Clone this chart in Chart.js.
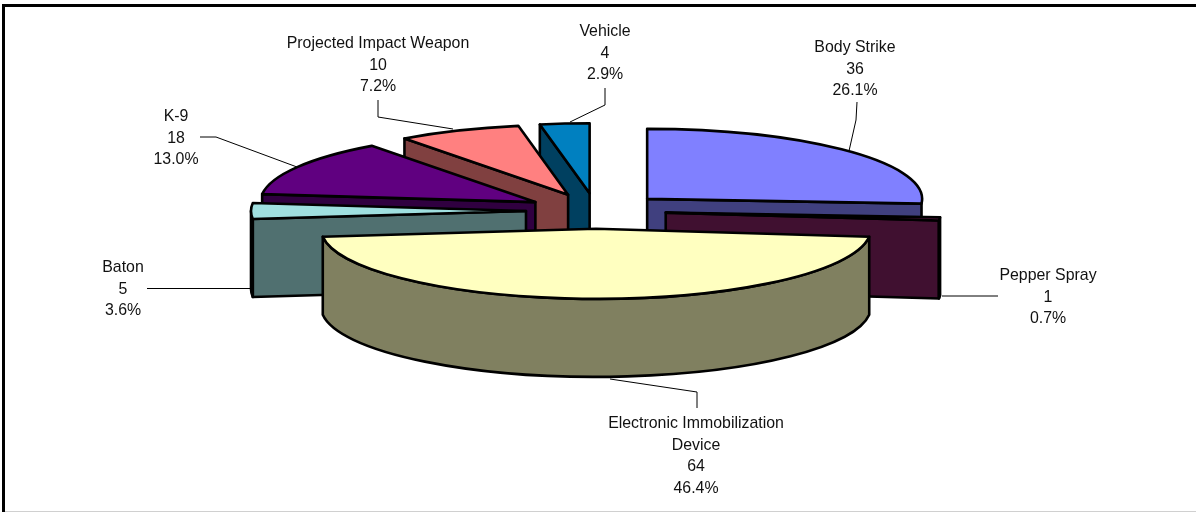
<!DOCTYPE html>
<html>
<head>
<meta charset="utf-8">
<style>html,body{margin:0;padding:0;background:#fff;overflow:hidden}canvas{display:block}</style>
<script src="https://cdn.jsdelivr.net/npm/chart.js@4"></script>
</head>
<body>
<canvas id="c" width="1196" height="512"></canvas>
<script>
const categories = ['Body Strike','Pepper Spray','Electronic Immobilization Device','Baton','K-9','Projected Impact Weapon','Vehicle'];
const values = [36,1,64,5,18,10,4];
const topColors = ['#8080FF','#802060','#FFFFC0','#A0E0E0','#600080','#FF8080','#0080C0'];
const wallColors = ['#40407F','#401030','#808060','#507070','#300040','#804040','#004060'];
const labelLines = [['Body Strike'],['Pepper Spray'],['Electronic Immobilization','Device'],['Baton'],['K-9'],['Projected Impact Weapon'],['Vehicle']];
const labelAnchors = [[855,48],[1048,276],[696,424],[123,268],[176,117],[378,44],[605,32]];
const leaders = [
  [[857,102],[856,120],[849,151]],
  [[942,296],[998,296]],
  [[610,379],[697,392],[697,408]],
  [[147,288.5],[251,288.5]],
  [[200,137],[216,137],[297,167]],
  [[378,100],[378,117],[453,129]],
  [[605,88],[605,105],[570,122]]
];
const tilt = 0.2545, depth = 78, lineH = 21.4, explode = 70;

const pie3d = {
  id:'pie3d',
  beforeDatasetsDraw(chart){
    const ctx = chart.ctx;
    const arcs = chart.getDatasetMeta(0).data;
    const items = arcs.map((arc,i)=>{
      const p = arc.getProps(['x','y','startAngle','endAngle','outerRadius']);
      const mid=(p.startAngle+p.endAngle)/2;
      return {arc,i,s:p.startAngle,e:p.endAngle,rx:p.outerRadius,ry:p.outerRadius*tilt,
        ox:p.x+Math.cos(mid)*explode, oy:p.y+Math.sin(mid)*explode*tilt};
    }).sort((a,b)=>a.oy-b.oy);
    ctx.save();
    ctx.lineWidth = 2.6; ctx.lineJoin='round'; ctx.strokeStyle='#000';
    for(const t of items){
      ctx.fillStyle = wallColors[t.i];
      const pt = a=>[t.ox+t.rx*Math.cos(a), t.oy+t.ry*Math.sin(a)];
      const radial = a=>{
        const q=pt(a);
        ctx.beginPath();
        ctx.moveTo(t.ox,t.oy);ctx.lineTo(q[0],q[1]);ctx.lineTo(q[0],q[1]+depth);ctx.lineTo(t.ox,t.oy+depth);ctx.closePath();
        ctx.fill();ctx.stroke();
      };
      if(Math.cos(t.s)<-1e-6) radial(t.s);
      if(Math.cos(t.e)>1e-6) radial(t.e);
      const norm=a=>{while(a<0)a+=2*Math.PI;while(a>=2*Math.PI)a-=2*Math.PI;return a;};
      const a0=norm(t.s), a1=a0+(t.e-t.s);
      const lo=Math.max(a0,0), hi=Math.min(a1,Math.PI);
      if(hi>lo){
        ctx.beginPath();
        ctx.ellipse(t.ox,t.oy,t.rx,t.ry,0,lo,hi);
        ctx.ellipse(t.ox,t.oy+depth,t.rx,t.ry,0,hi,lo,true);
        ctx.closePath();ctx.fill();ctx.stroke();
      }
      // top face: drawn by the library's arc element, flattened into an ellipse and moved out
      const ax=t.arc.x, ay=t.arc.y;
      ctx.save();
      ctx.translate(t.ox,t.oy);ctx.scale(1,tilt);ctx.translate(-ax,-ay);
      t.arc.draw(ctx);
      ctx.restore();
      ctx.beginPath();
      ctx.moveTo(t.ox,t.oy);
      ctx.ellipse(t.ox,t.oy,t.rx,t.ry,0,t.s,t.e);
      ctx.closePath();ctx.stroke();
    }
    ctx.restore();
    return false;
  },
  afterDraw(chart){
    const ctx = chart.ctx;
    ctx.save();
    ctx.fillStyle='#000';
    ctx.fillRect(2,4,1194,3);
    ctx.fillRect(2,4,3,508);
    ctx.fillStyle='#d0d0d0';
    ctx.fillRect(5,511,1191,1);
    ctx.strokeStyle='#000';ctx.lineWidth=1;
    leaders.forEach(l=>{
      ctx.beginPath();
      l.forEach((p,i)=>i?ctx.lineTo(p[0],p[1]):ctx.moveTo(p[0],p[1]));
      ctx.stroke();
    });
    const total = values.reduce((a,b)=>a+b,0);
    ctx.fillStyle='#111';ctx.font='15.9px "Liberation Sans", Arial, sans-serif';
    ctx.textAlign='center';ctx.textBaseline='middle';
    categories.forEach((c,i)=>{
      const lines=[...labelLines[i],String(values[i]),(values[i]/total*100).toFixed(1)+'%'];
      lines.forEach((s,j)=>ctx.fillText(s,labelAnchors[i][0],labelAnchors[i][1]+j*lineH));
    });
    ctx.restore();
  }
};

new Chart(document.getElementById('c'),{
  type:'pie',
  data:{labels:categories,datasets:[{data:values,backgroundColor:topColors,borderWidth:0,radius:275}]},
  options:{
    responsive:false,animation:false,devicePixelRatio:1,
    radius:275,
    layout:{padding:{left:0,right:4,top:0,bottom:90}},
    plugins:{legend:{display:false},tooltip:{enabled:false}}
  },
  plugins:[pie3d]
});
</script>
</body>
</html>
